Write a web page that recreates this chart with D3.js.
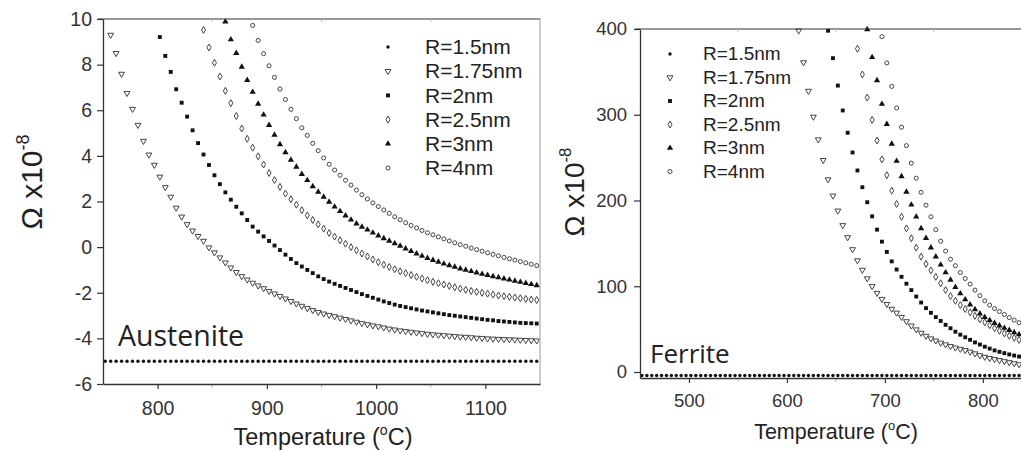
<!DOCTYPE html>
<html><head><meta charset="utf-8">
<script src="https://cdn.jsdelivr.net/npm/d3@7"></script>
<style>body{margin:0;background:#fff}svg{display:block}</style>
</head><body>
<svg id="c" width="1021" height="451"></svg>
<script>
// ---------------- DATA ----------------
const seriesLabels = ["R=1.5nm","R=1.75nm","R=2nm","R=2.5nm","R=3nm","R=4nm"];
const tempStep = 5; // °C between successive points of a series

// Austenite panel
const austXTicks = [800, 900, 1000, 1100];
const austYTicks = [-6, -4, -2, 0, 2, 4, 6, 8, 10];
const austStart = [752, 757, 802, 842, 862, 887]; // first temperature of each series
const aust150 = [-5,-5,-5,-5,-5,-5,-5,-5,-5,-5,-5,-5,-5,-5,-5,-5,-5,-5,-5,-5,
  -5,-5,-5,-5,-5,-5,-5,-5,-5,-5,-5,-5,-5,-5,-5,-5,-5,-5,-5,-5,
  -5,-5,-5,-5,-5,-5,-5,-5,-5,-5,-5,-5,-5,-5,-5,-5,-5,-5,-5,-5,
  -5,-5,-5,-5,-5,-5,-5,-5,-5,-5,-5,-5,-5,-5,-5,-5,-5,-5,-5,-5];
const aust175 = [9.3,8.5,7.59,6.75,6.05,5.35,4.65,4.05,3.6,
  3.08,2.62,2.2,1.72,1.33,1.0,0.72,0.48,0.27,-0.02,
  -0.24,-0.46,-0.68,-0.9,-1.1,-1.28,-1.43,-1.57,-1.69,-1.81,
  -1.93,-2.04,-2.15,-2.26,-2.37,-2.48,-2.58,-2.68,-2.77,-2.85,
  -2.92,-2.98,-3.04,-3.1,-3.16,-3.22,-3.28,-3.34,-3.39,-3.44,
  -3.48,-3.53,-3.58,-3.62,-3.66,-3.69,-3.72,-3.75,-3.78,-3.81,
  -3.83,-3.85,-3.87,-3.89,-3.91,-3.93,-3.94,-3.96,-3.98,-3.99,
  -4.01,-4.02,-4.03,-4.04,-4.05,-4.06,-4.07,-4.08,-4.09,-4.1];
const aust200 = [9.21,8.38,7.68,6.92,6.33,5.72,5.12,4.56,4.06,3.6,
  3.15,2.76,2.4,2.08,1.77,1.48,1.19,0.9,0.68,0.47,
  0.27,0.07,-0.13,-0.33,-0.52,-0.7,-0.85,-1.0,-1.14,-1.28,
  -1.4,-1.51,-1.61,-1.7,-1.79,-1.88,-1.97,-2.06,-2.14,-2.22,
  -2.3,-2.38,-2.45,-2.52,-2.58,-2.63,-2.68,-2.73,-2.78,-2.82,
  -2.86,-2.9,-2.94,-2.98,-3.01,-3.04,-3.07,-3.1,-3.13,-3.16,
  -3.19,-3.21,-3.24,-3.26,-3.28,-3.3,-3.32,-3.33,-3.34,-3.35];
const aust250 = [9.52,8.75,8.08,7.48,6.85,6.31,5.75,5.2,4.75,4.36,
  3.98,3.62,3.25,2.94,2.64,2.35,2.1,1.86,1.62,1.39,
  1.19,1.0,0.81,0.62,0.46,0.3,0.15,0.0,-0.14,-0.28,
  -0.41,-0.54,-0.66,-0.77,-0.87,-0.97,-1.06,-1.14,-1.22,-1.3,
  -1.38,-1.45,-1.52,-1.58,-1.64,-1.7,-1.76,-1.82,-1.87,-1.92,
  -1.96,-2.0,-2.04,-2.08,-2.12,-2.15,-2.18,-2.21,-2.24,-2.27,
  -2.3,-2.32];
const aust300 = [9.88,9.1,8.5,7.9,7.32,6.8,6.28,5.8,5.35,4.92,
  4.5,4.15,3.82,3.52,3.2,2.93,2.66,2.42,2.2,1.98,
  1.77,1.57,1.38,1.2,1.03,0.89,0.76,0.63,0.5,0.38,
  0.27,0.16,0.05,-0.07,-0.18,-0.29,-0.39,-0.48,-0.57,-0.65,
  -0.73,-0.8,-0.87,-0.94,-1.0,-1.06,-1.12,-1.18,-1.23,-1.28,
  -1.33,-1.38,-1.43,-1.48,-1.53,-1.58,-1.63,-1.68];
const aust400 = [9.72,9.06,8.48,7.95,7.44,6.93,6.47,6.04,5.63,5.23,
  4.9,4.55,4.23,3.91,3.63,3.38,3.15,2.93,2.72,2.5,
  2.3,2.11,1.94,1.78,1.63,1.48,1.33,1.2,1.07,0.95,
  0.84,0.73,0.63,0.54,0.45,0.36,0.27,0.19,0.11,0.04,
  -0.04,-0.11,-0.18,-0.25,-0.32,-0.38,-0.45,-0.51,-0.57,-0.63,
  -0.69,-0.75,-0.81];

// Ferrite panel
const ferXTicks = [500, 600, 700, 800];
const ferYTicks = [0, 100, 200, 300, 400];
const ferStart = [452, 612, 642, 672, 682, 697];
const fer150 = [-4,-4,-4,-4,-4,-4,-4,-4,-4,-4,-4,-4,-4,-4,-4,-4,-4,-4,-4,-4,
  -4,-4,-4,-4,-4,-4,-4,-4,-4,-4,-4,-4,-4,-4,-4,-4,-4,-4,-4,-4,
  -4,-4,-4,-4,-4,-4,-4,-4,-4,-4,-4,-4,-4,-4,-4,-4,-4,-4,-4,-4,
  -4,-4,-4,-4,-4,-4,-4,-4,-4,-4,-4,-4,-4,-4,-4,-4,-4,-4];
const fer175 = [398,361,327.7,297.5,271,247,224.5,205.5,188,171,
  157,143,130,119,109,100,92,85,79,73.5,
  69,64,59,54,49.5,45.5,42,39,36.5,34,
  32,30,28.3,26.8,25.3,23.5,21.5,19.3,17.5,16,
  14.8,13.6,12.4,11.2,10,8.8];
const fer200 = [398,366,334,305,279,256,235,215.5,198,181.5,
  166,152,140,129,119.5,111,103,95.5,88,81,
  74.5,69,64,59.5,55,51,47,43.5,40.5,37.5,
  34.5,32,29.5,27.3,25.2,23.5,22,20.5,19.2,18];
const fer250 = [377,347,320,294,270,248,229.5,211.5,196,181,
  167.5,156,145,134.5,126,118.5,111,103.5,95.5,88.5,
  83,78,73.5,69.5,65.5,61.5,58,54.5,51,48,
  45,42.3,39.8,37.5];
const fer300 = [399.5,367,340,312.5,289,266,246,228,210,195,
  181,167.5,156,145,134.5,125,116,107.5,99,91.5,
  84.5,78.5,73,68,64,60.3,57,54,51.3,48.7,
  46.2,43.8];
const fer400 = [391,360.5,333,308,285.5,264,243.5,226,209.5,194.5,
  181,166,152.5,141,131.5,124,116,109,102.5,95.5,
  89,83,78,74,70.5,67,63.5,60.5,57.5];

// ---------------- DRAWING ----------------
const svg = d3.select("#c");
const SANS = "'Liberation Sans', Arial, Helvetica, sans-serif";
const HUMAN = "'Open Sans', 'Noto Sans', sans-serif";
const INK = "#222";

// marker styles per series index
const markerStyle = [
  {shape: "dot"},
  {shape: d3.symbolTriangle, size: 15, rot: 180, fill: "#fff", stroke: "#444"},
  {shape: d3.symbolSquare, size: 15, fill: "#111"},
  {shape: d3.symbolDiamond, size: 14, fill: "#fff", stroke: "#444"},
  {shape: d3.symbolTriangle, size: 17, fill: "#111"},
  {shape: d3.symbolCircle, size: 13, fill: "#fff", stroke: "#444"}
];

function drawMarkers(g, pts, k) {
  const st = markerStyle[k];
  if (st.shape === "dot") {
    g.selectAll(null).data(pts).enter().append("circle")
      .attr("cx", d => d[0]).attr("cy", d => d[1]).attr("r", 1.7)
      .attr("fill", "#111");
  } else {
    const p = d3.symbol().type(st.shape).size(st.size)();
    g.selectAll(null).data(pts).enter().append("path")
      .attr("d", p)
      .attr("transform", d => `translate(${d[0]},${d[1]})` + (st.rot ? ` rotate(${st.rot})` : ""))
      .attr("fill", st.fill)
      .attr("stroke", st.stroke || "none")
      .attr("stroke-width", st.stroke ? 1 : 0);
  }
}

function panel(cfg) {
  const {x, y, xTicks, yTicks, minorX, series, starts, tickFont, xPad, yPad,
         xTitle, yTitle, label, legend, frameRight} = cfg;
  const g = svg.append("g");
  const [x0, x1] = x.range();
  const [yb, yt] = y.range();

  // series
  series.forEach((vals, k) => {
    const pts = vals.map((v, i) => [x(starts[k] + i * tempStep), y(v)]);
    drawMarkers(g.append("g"), pts, k);
  });

  // top frame line
  g.append("line").attr("x1", x0 - 5).attr("x2", x1).attr("y1", yt).attr("y2", yt)
    .attr("stroke", "#333").attr("stroke-width", 1.2);
  if (frameRight) {
    g.append("line").attr("x1", x1).attr("x2", x1).attr("y1", yt - 1).attr("y2", yb + 1)
      .attr("stroke", "#aaa").attr("stroke-width", 1.2);
  }
  // minor ticks
  minorX.forEach(t => {
    g.append("line").attr("x1", x(t)).attr("x2", x(t)).attr("y1", yb).attr("y2", yb + 4)
      .attr("stroke", "#bbb");
    g.append("line").attr("x1", x(t)).attr("x2", x(t)).attr("y1", yt).attr("y2", yt + 3)
      .attr("stroke", "#bbb");
  });

  // axes
  const fmt = d => String(d);
  const ax = g.append("g").attr("transform", `translate(0,${yb})`)
    .call(d3.axisBottom(x).tickValues(xTicks).tickFormat(fmt).tickSize(5).tickSizeOuter(0).tickPadding(xPad));
  const ay = g.append("g").attr("transform", `translate(${x0},0)`)
    .call(d3.axisLeft(y).tickValues(yTicks).tickFormat(fmt).tickSize(6).tickSizeOuter(0).tickPadding(yPad));
  [ax, ay].forEach(a => {
    a.select(".domain").attr("stroke", "#333").attr("stroke-width", 1.3);
    a.selectAll(".tick line").attr("stroke", "#333").attr("stroke-width", 1.2);
    a.selectAll("text").attr("font-family", SANS).attr("font-size", tickFont).attr("fill", "#333");
  });

  // x title
  const xt = g.append("text").attr("x", xTitle.x).attr("y", xTitle.y)
    .attr("text-anchor", "middle").attr("font-family", SANS).attr("font-size", xTitle.size)
    .attr("fill", INK);
  xt.append("tspan").text("Temperature (");
  xt.append("tspan").attr("font-size", xTitle.size * 0.6).attr("dy", -xTitle.size * 0.42).text("o");
  xt.append("tspan").attr("dy", xTitle.size * 0.42).text("C)");

  // y title
  const yt2 = g.append("text")
    .attr("transform", `translate(${yTitle.x},${yTitle.y}) rotate(-90)`)
    .attr("text-anchor", "middle").attr("font-family", SANS).attr("font-size", yTitle.size)
    .attr("fill", INK);
  yt2.append("tspan").text("Ω x10");
  yt2.append("tspan").attr("font-size", yTitle.size * 0.6).attr("dy", -yTitle.size * 0.45).text("-8");

  // phase label
  g.append("text").attr("x", label.x).attr("y", label.y).attr("font-family", HUMAN)
    .attr("font-size", label.size).attr("fill", INK).text(label.text);

  // legend
  seriesLabels.forEach((lab, k) => {
    const cy = legend.y + k * legend.dy;
    drawMarkers(g.append("g"), [[legend.mx, cy]], k);
    g.append("text").attr("x", legend.tx).attr("y", cy + legend.size * 0.34)
      .attr("font-family", SANS).attr("font-size", legend.size).attr("fill", INK).text(lab);
  });
}

panel({
  x: d3.scaleLinear([750, 1150], [103, 540]),
  y: d3.scaleLinear([-6, 10], [384, 19]),
  xTicks: austXTicks, yTicks: austYTicks, minorX: [850, 950, 1050],
  series: [aust150, aust175, aust200, aust250, aust300, aust400],
  starts: austStart, tickFont: 19.5, xPad: 12, yPad: 5,
  xTitle: {x: 323, y: 445, size: 23.5},
  yTitle: {x: 42, y: 182, size: 30},
  label: {x: 118, y: 346, size: 28.5, text: "Austenite"},
  legend: {mx: 388, tx: 425, y: 47, dy: 24.2, size: 21},
  frameRight: true
});

panel({
  x: d3.scaleLinear([450, 840], [640, 1022]),
  y: d3.scaleLinear([-7, 400], [378, 29]),
  xTicks: ferXTicks, yTicks: ferYTicks, minorX: [550, 650, 750],
  series: [fer150, fer175, fer200, fer250, fer300, fer400],
  starts: ferStart, tickFont: 18.5, xPad: 11, yPad: 7,
  xTitle: {x: 836, y: 439, size: 21.5},
  yTitle: {x: 584, y: 192, size: 28},
  label: {x: 650, y: 363, size: 26, text: "Ferrite"},
  legend: {mx: 670, tx: 703, y: 54, dy: 23.5, size: 19},
  frameRight: false
});
</script>
</body></html>
